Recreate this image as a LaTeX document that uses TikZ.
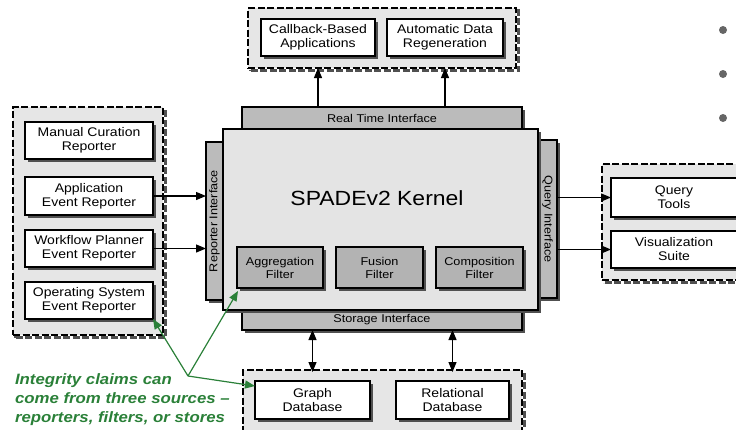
\documentclass[tikz,border=0pt]{standalone}
\usepackage{fontspec}
\setmainfont{Liberation Sans}[FakeStretch=1.12]
\usetikzlibrary{arrows.meta,shadows}
\definecolor{grpfill}{HTML}{E6E6E6}
\definecolor{kerfill}{HTML}{E4E4E4}
\definecolor{barfill}{HTML}{BBBBBB}
\definecolor{filtfill}{HTML}{B3B3B3}
\definecolor{shadowc}{HTML}{505050}
\definecolor{grn}{HTML}{2A8038}
\definecolor{bulc}{HTML}{666666}
\newcommand\lblfont{\fontsize{12.5}{14}\selectfont}
\newcommand\smlfont{\fontsize{11.3}{13}\selectfont}
\newcommand\ttlfont{\fontsize{20.5}{24}\selectfont}
\newcommand\grnfont{\fontsize{15}{19}\selectfont\bfseries\itshape}
\begin{document}
\begin{tikzpicture}[x=1pt,y=-1pt,
  every node/.style={inner sep=0pt, outer sep=0pt, align=center},
  shad/.style={drop shadow={shadow xshift=3pt,shadow yshift=-3pt,fill=shadowc,opacity=1}},
  grp/.style={draw, dash pattern=on 7pt off 2.5pt, line width=1.1pt, fill=grpfill,
    general shadow={shadow xshift=2.5pt,shadow yshift=-2.5pt,draw=shadowc,line width=2.2pt}},
  wbox/.style={draw, line width=1.2pt, fill=white, font=\lblfont, shad},
  bar/.style={draw, line width=1.2pt, fill=barfill, font=\smlfont, shad},
  filt/.style={draw, line width=1.2pt, fill=filtfill, font=\smlfont, shad},
  kern/.style={draw, line width=1.2pt, fill=kerfill, shad},
  arr/.style={line width=1.2pt, -{Triangle[length=10pt,width=8pt]}},
  darr/.style={line width=1.2pt, {Triangle[length=10pt,width=8pt]}-{Triangle[length=10pt,width=8pt]}},
  garr/.style={draw=grn, line width=1.2pt, -{Triangle[length=10pt,width=8pt]}},
  bul/.style={circle, fill=bulc, minimum size=8pt}
]
\useasboundingbox (0,0) rectangle (736,429);

% bullets
\node[bul] (b1) at (723,30) {};
\node[bul] (b2) at (723,74) {};
\node[bul] (b3) at (723,118) {};

% top group
\node[grp, minimum width=268pt, minimum height=60pt] (topgrp) at (382,38) {};
\node[wbox, minimum width=114pt, minimum height=37pt] (cb) at (318,37.5) {Callback-Based\\Applications};
\node[wbox, minimum width=116pt, minimum height=37pt] (ad) at (445,37.5) {Automatic Data\\Regeneration};

% left group
\node[grp, minimum width=150pt, minimum height=228pt] (leftgrp) at (88,221) {};
\node[wbox, minimum width=128pt, minimum height=37pt] (mc) at (89,140.5) {Manual Curation\\Reporter};
\node[wbox, minimum width=128pt, minimum height=38pt] (app) at (89,196) {Application\\Event Reporter};
\node[wbox, minimum width=128pt, minimum height=37pt] (wf) at (89,248.5) {Workflow Planner\\Event Reporter};
\node[wbox, minimum width=128pt, minimum height=37pt] (os) at (89,300.5) {Operating System\\Event Reporter};

% right group
\node[grp, minimum width=150pt, minimum height=116pt] (rightgrp) at (677,222) {};
\node[wbox, minimum width=126pt, minimum height=39pt] (qt) at (674,197.5) {Query\\Tools};
\node[wbox, minimum width=126pt, minimum height=37pt] (vs) at (674,249.5) {Visualization\\Suite};

% bottom group
\node[grp, minimum width=279pt, minimum height=70pt] (botgrp) at (382.5,405) {};
\node[wbox, minimum width=115pt, minimum height=38pt] (gdb) at (312.5,400) {Graph\\Database};
\node[wbox, minimum width=113pt, minimum height=38pt] (rdb) at (452.5,400) {Relational\\Database};

% interface bars
\node[bar, minimum width=280pt, minimum height=22pt] (rtbar) at (382,118) {Real Time Interface};
\node[bar, rotate=90, minimum width=158pt, minimum height=17pt] (repbar) at (214.5,221) {Reporter Interface};
\node[bar, rotate=-90, minimum width=158pt, minimum height=19pt] (qbar) at (547.5,219) {Query Interface};
\node[bar, minimum width=280pt, minimum height=20pt] (stbar) at (382,320) {Storage Interface};

% kernel
\node[kern, minimum width=315pt, minimum height=181pt] (kernel) at (380.5,219.5) {};
\node[font=\ttlfont] (ktitle) at (377,198) {SPADEv2 Kernel};
\node[filt, minimum width=86pt, minimum height=41pt] (agg) at (280,267.5) {Aggregation\\Filter};
\node[filt, minimum width=87pt, minimum height=41pt] (fus) at (379.5,267.5) {Fusion\\Filter};
\node[filt, minimum width=87pt, minimum height=41pt] (comp) at (479.5,267.5) {Composition\\Filter};

% connectors
\draw[arr] (app.east) -- (app.east -| repbar.north);
\draw[arr] (wf.east) -- (wf.east -| repbar.north);
\draw[arr] (qbar.north |- qt.west) -- (qt.west);
\draw[arr] (qbar.north |- vs.west) -- (vs.west);
\draw[arr] (rtbar.north -| cb.south) -- (topgrp.south -| cb.south);
\draw[arr] (rtbar.north -| ad.south) -- (topgrp.south -| ad.south);
\draw[darr] (stbar.south -| gdb.north) -- ([yshift=-2pt]botgrp.north -| gdb.north);
\draw[darr] (stbar.south -| rdb.north) -- ([yshift=-2pt]botgrp.north -| rdb.north);

% integrity claims
\node[anchor=north west, align=left, text=grn, font=\grnfont] (claim) at (15,374)
  {Integrity claims can\\come from three sources –\\reporters, filters, or stores};
\coordinate (j) at (188,376);
\draw[garr] (j) -- (os.south east);
\draw[garr] (j) -- ([xshift=1pt,yshift=-3pt]agg.south west);
\draw[garr] (j) -- ([yshift=-5pt]gdb.north west);
\end{tikzpicture}
\end{document}
